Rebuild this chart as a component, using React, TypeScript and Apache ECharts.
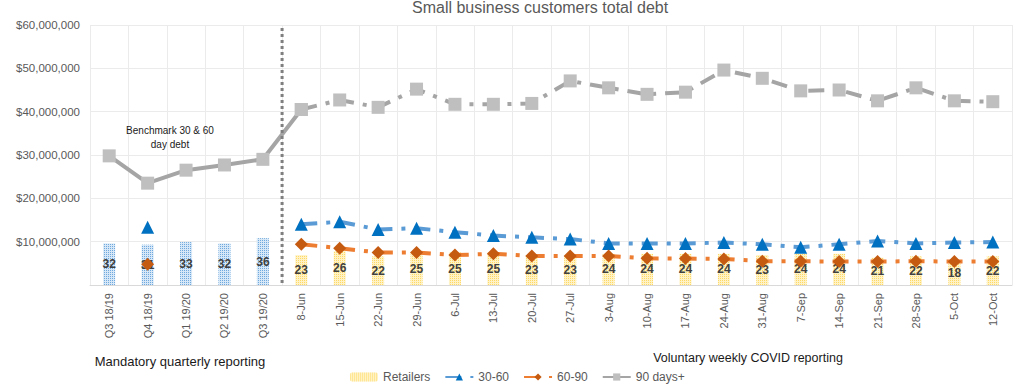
import React, { useEffect, useRef } from 'react';
import * as echarts from 'echarts';

const categories = [
  'Q3 18/19', 'Q4 18/19', 'Q1 19/20', 'Q2 19/20', 'Q3 19/20',
  '8-Jun', '15-Jun', '22-Jun', '29-Jun', '6-Jul', '13-Jul', '20-Jul', '27-Jul',
  '3-Aug', '10-Aug', '17-Aug', '24-Aug', '31-Aug', '7-Sep', '14-Sep', '21-Sep',
  '28-Sep', '5-Oct', '12-Oct',
];
const quarterlyCount = 5;

// number of retailers reporting
const retailers = [32, 31, 33, 32, 36, 23, 26, 22, 25, 25, 25, 23, 23, 24, 24, 24, 24, 23, 24, 24, 21, 22, 18, 22];

// debt in $ millions
const debt30to60 = [null, 13.3, null, null, null, 14.0, 14.6, 12.8, 13.1, 12.2, 11.4, 11.0, 10.6, 9.6, 9.6, 9.6, 9.8, 9.4, 8.7, 9.4, 10.15, 9.6, 9.8, 9.9];
const debt60to90 = [null, 4.8, null, null, null, 9.4, 8.5, 7.5, 7.5, 6.9, 7.2, 6.7, 6.7, 6.7, 6.15, 6.1, 6.0, 5.5, 5.5, 5.4, 5.4, 5.5, 5.4, 5.4];
const debt90plus = [29.8, 23.5, 26.5, 27.7, 29.0, 40.5, 42.7, 41.0, 45.2, 41.7, 41.7, 41.9, 47.1, 45.5, 44.0, 44.5, 49.6, 47.7, 44.8, 45.0, 42.5, 45.5, 42.5, 42.3];

const yTicks = [0, 10, 20, 30, 40, 50, 60];

const M = 1e6;
const FONT = 'Liberation Sans';

function fmtDollar(v: number) {
  return '$' + Math.round(v).toString().replace(/\B(?=(\d{3})+(?!\d))/g, ',');
}

export default function App() {
  const ref = useRef<HTMLDivElement>(null);

  useEffect(() => {
    if (!ref.current) return;
    const chart = echarts.init(ref.current, null, { renderer: 'svg' });

    const toDollars = (arr: (number | null)[]) => arr.map((v) => (v == null ? null : v * M));
    const d90 = toDollars(debt90plus);
    const d90Quarterly = d90.map((v, i) => (i <= quarterlyCount ? v : null));
    const d90Weekly = d90.map((v, i) => (i >= quarterlyCount ? v : null));

    const weeklyBarStyle = {
      color: '#fff2c4',
      decal: { symbol: 'rect', symbolSize: 1, dashArrayX: [1, 1], dashArrayY: [1, 1], color: '#ffd966' },
    };
    const quarterlyBarStyle = {
      color: '#d6e8f7',
      decal: { symbol: 'rect', symbolSize: 1, dashArrayX: [1, 1], dashArrayY: [1, 1], color: '#6fa8dc' },
    };

    const dashPattern = [16, 9, 4, 9];

    chart.setOption({
      animation: false,
      textStyle: { fontFamily: FONT },
      title: {
        text: 'Small business customers total debt',
        left: 407,
        top: -6,
        textStyle: { fontFamily: FONT, fontSize: 16, fontWeight: 'normal', color: '#595959' },
      },
      grid: { left: 90, right: 1, top: 25, bottom: 104, containLabel: false },
      legend: {
        bottom: 1,
        left: 345,
        itemGap: 14,
        itemWidth: 28,
        itemHeight: 9,
        textStyle: { fontFamily: FONT, fontSize: 12, color: '#595959' },
        data: ['Retailers', '30-60', '60-90', '90 days+'],
      },
      xAxis: {
        type: 'category',
        data: categories,
        boundaryGap: true,
        axisTick: { show: false },
        axisLine: { lineStyle: { color: '#d9d9d9' } },
        splitLine: { show: true, lineStyle: { color: '#ebebeb' } },
        axisLabel: { rotate: 90, interval: 0, margin: 8, fontSize: 11, color: '#595959', fontFamily: FONT },
      },
      yAxis: [
        {
          type: 'value',
          min: yTicks[0] * M,
          max: yTicks[yTicks.length - 1] * M,
          interval: 10 * M,
          showMinLabel: false,
          axisLabel: {
            fontSize: 11.5,
            color: '#595959',
            fontFamily: FONT,
            margin: 10,
            formatter: (v: number) => (v === 0 ? '' : fmtDollar(v)),
          },
          axisLine: { show: false },
          axisTick: { show: false },
          splitLine: { lineStyle: { color: '#ebebeb' } },
        },
        { type: 'value', min: 0, max: 200, show: false, splitLine: { show: false } },
      ],
      series: [
        {
          name: 'Retailers',
          type: 'bar',
          yAxisIndex: 1,
          barWidth: 12,
          itemStyle: weeklyBarStyle,
          data: retailers.map((v, i) => ({
            value: v,
            itemStyle: i < quarterlyCount ? quarterlyBarStyle : weeklyBarStyle,
          })),
          label: {
            show: true,
            position: 'inside',
            fontSize: 12,
            fontWeight: 'bold',
            color: '#404040',
            fontFamily: FONT,
          },
          z: 1,
        },
        {
          name: '30-60',
          type: 'line',
          data: toDollars(debt30to60),
          symbol: 'triangle',
          symbolSize: 13,
          showAllSymbol: true,
          itemStyle: { color: '#0070c0' },
          lineStyle: { color: '#5b9bd5', width: 4, type: dashPattern },
          z: 3,
        },
        {
          name: '60-90',
          type: 'line',
          data: toDollars(debt60to90),
          symbol: 'diamond',
          symbolSize: 13,
          showAllSymbol: true,
          itemStyle: { color: '#c55a11' },
          lineStyle: { color: '#ed7d31', width: 4, type: dashPattern },
          z: 3,
        },
        {
          name: '90 days+',
          type: 'line',
          data: d90Quarterly,
          symbol: 'rect',
          symbolSize: 13,
          showAllSymbol: true,
          itemStyle: { color: '#bfbfbf' },
          lineStyle: { color: '#a5a5a5', width: 4 },
          z: 3,
        },
        {
          name: '90 days+',
          type: 'line',
          data: d90Weekly,
          symbol: 'rect',
          symbolSize: 13,
          showAllSymbol: true,
          itemStyle: { color: '#bfbfbf' },
          lineStyle: { color: '#a5a5a5', width: 4, type: dashPattern },
          z: 3,
        },
      ],
    });

    const x4 = chart.convertToPixel({ xAxisIndex: 0 }, categories[quarterlyCount - 1]) as number;
    const x5 = chart.convertToPixel({ xAxisIndex: 0 }, categories[quarterlyCount]) as number;
    const xSep = (x4 + x5) / 2;
    const yTop = chart.convertToPixel({ yAxisIndex: 0 }, 59.3 * M) as number;
    const yBottom = chart.convertToPixel({ yAxisIndex: 0 }, 0) as number;

    chart.setOption({
      graphic: [
        {
          type: 'line',
          shape: { x1: xSep, y1: yTop, x2: xSep, y2: yBottom },
          style: { stroke: '#7f7f7f', lineWidth: 3, lineDash: [3, 3] },
          z: 10,
        },
        {
          type: 'text',
          x: 170,
          y: 123,
          style: {
            text: 'Benchmark 30 & 60\nday debt',
            textAlign: 'center',
            fontSize: 10,
            lineHeight: 14,
            fill: '#1a1a1a',
            fontFamily: FONT,
          },
        },
        {
          type: 'text',
          x: 180,
          y: 355,
          style: {
            text: 'Mandatory quarterly reporting',
            textAlign: 'center',
            fontSize: 13,
            fill: '#1a1a1a',
            fontFamily: FONT,
          },
        },
        {
          type: 'text',
          x: 748,
          y: 351,
          style: {
            text: 'Voluntary weekly COVID reporting',
            textAlign: 'center',
            fontSize: 12.5,
            fill: '#1a1a1a',
            fontFamily: FONT,
          },
        },
      ],
    });

    return () => chart.dispose();
  }, []);

  return (
    <div
      ref={ref}
      style={{ position: 'fixed', left: 0, top: 0, width: 1013, height: 389, background: '#ffffff' }}
    />
  );
}
